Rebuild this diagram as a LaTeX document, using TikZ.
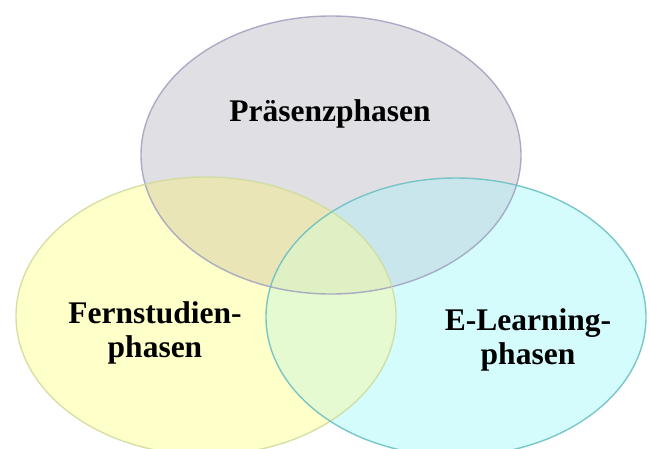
\documentclass[tikz,border=0pt]{standalone}
\usepackage{fontspec}
\setmainfont{Liberation Serif}
\usetikzlibrary{shapes.geometric}
\definecolor{gfill}{HTML}{E0E0E4}
\definecolor{yfill}{HTML}{FFFFCA}
\definecolor{cfill}{HTML}{D4FCFD}
\definecolor{gyfill}{HTML}{EAE5B6}
\definecolor{gcfill}{HTML}{C8E6EC}
\definecolor{ycfill}{HTML}{E5FAD0}
\definecolor{gycfill}{HTML}{DEF0C4}
\definecolor{gline}{HTML}{A0A0C0}
\definecolor{yline}{HTML}{CFDB9C}
\definecolor{cline}{HTML}{66BEC2}
\tikzset{
  setbox/.style={ellipse, minimum width=380pt, minimum height=278pt, inner sep=0pt},
  lbl/.style={font=\bfseries\fontsize{31.5}{34.5}\selectfont, inner sep=0pt, align=center, text=black}
}
\begin{document}
\begin{tikzpicture}[x=1pt,y=-1pt]
\fill[white] (0,0) rectangle (650,448);
\useasboundingbox (0,0) rectangle (650,448);
% single regions
\node[setbox, fill=gfill] (pres) at (331,155) {};
\node[setbox, fill=yfill] (fern) at (206,316) {};
\node[setbox, fill=cfill] (elearn) at (456,317) {};
% pairwise overlaps
\begin{scope}
  \clip (331,155) ellipse [x radius=190pt, y radius=139pt];
  \fill[gyfill] (206,316) ellipse [x radius=190pt, y radius=139pt];
  \fill[gcfill] (456,317) ellipse [x radius=190pt, y radius=139pt];
\end{scope}
\begin{scope}
  \clip (206,316) ellipse [x radius=190pt, y radius=139pt];
  \fill[ycfill] (456,317) ellipse [x radius=190pt, y radius=139pt];
\end{scope}
% triple overlap
\begin{scope}
  \clip (331,155) ellipse [x radius=190pt, y radius=139pt];
  \clip (206,316) ellipse [x radius=190pt, y radius=139pt];
  \fill[gycfill] (456,317) ellipse [x radius=190pt, y radius=139pt];
\end{scope}
% outlines
\draw[gline, line width=1.4pt, draw opacity=0.85] (pres.center) ellipse [x radius=190pt, y radius=139pt];
\draw[yline, line width=1.4pt, draw opacity=0.85] (fern.center) ellipse [x radius=190pt, y radius=139pt];
\draw[cline, line width=1.4pt, draw opacity=0.85] (elearn.center) ellipse [x radius=190pt, y radius=139pt];
% labels
\node[lbl, anchor=base] (tpres) at (330,121) {Präsenzphasen};
\node[lbl] (tfern) at (155,333) {Fernstudien-\\phasen};
\node[lbl] (telearn) at (528,340) {E-Learning-\\phasen};
\end{tikzpicture}
\end{document}
